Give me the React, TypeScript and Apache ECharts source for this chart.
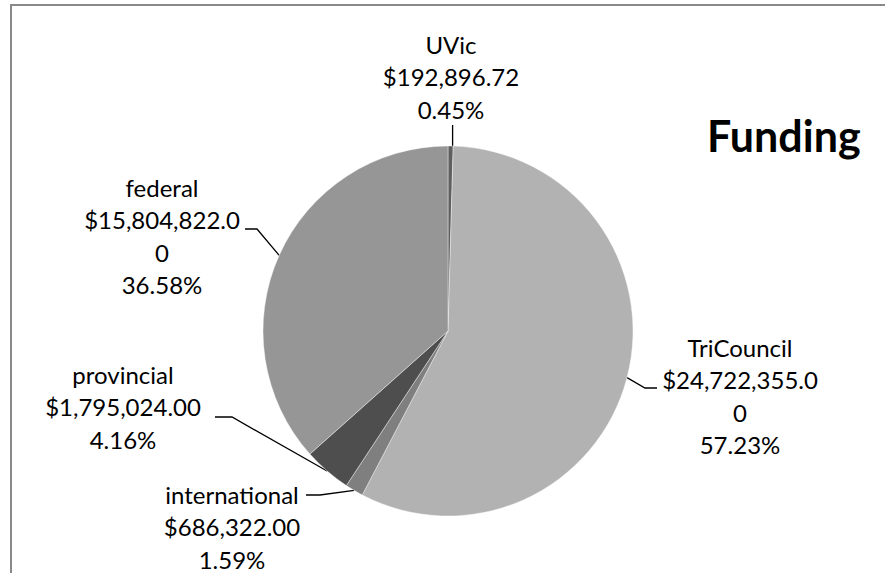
import React, { useEffect, useRef } from 'react';
import * as echarts from 'echarts';

// ---- data ----
const categories: string[] = ['UVic', 'TriCouncil', 'international', 'provincial', 'federal'];
const amounts: number[] = [192896.72, 24722355.0, 686322.0, 1795024.0, 15804822.0];
const titleText = 'Funding';

// ---- styles / layout ----
const sliceColors = ['#5f5f5f', '#b2b2b2', '#7f7f7f', '#4e4e4e', '#969696'];
const CX = 448;
const CY = 331;
const R = 185;
const FONT = 'Lato, "Open Sans", sans-serif';
const LABEL_FONT_SIZE = 24;
const LINE_H = 32.5;
// label block: center x, top y, leader bend point, leader end point
const labelLayoutCfg = [
  { x: 451, y: 28, bend: null as null | number[], end: [0, 125] },
  { x: 740, y: 331, bend: [645, 388], end: [657, 388] },
  { x: 232, y: 478, bend: [320, 495], end: [306, 495] },
  { x: 123, y: 358, bend: [232, 417], end: [215, 417] },
  { x: 162, y: 171, bend: [257, 229], end: [245, 229] },
];

const total = amounts.reduce((a, b) => a + b, 0);

function money(v: number): string {
  return '$' + v.toLocaleString('en-US', { minimumFractionDigits: 2, maximumFractionDigits: 2 });
}
function wrap(s: string, max: number): string {
  const parts: string[] = [];
  for (let i = 0; i < s.length; i += max) parts.push(s.slice(i, i + max));
  return parts.join('\n');
}

function edgePoint(i: number): number[] {
  let cum = 0;
  for (let k = 0; k < i; k++) cum += amounts[k];
  const f = (cum + amounts[i] / 2) / total;
  const th = f * Math.PI * 2;
  return [CX + R * Math.sin(th), CY - R * Math.cos(th)];
}

export default function App() {
  const ref = useRef<HTMLDivElement>(null);
  useEffect(() => {
    document.body.style.margin = '0';
    if (!ref.current) return;
    const chart = echarts.init(ref.current, undefined, { renderer: 'svg' });
    chart.setOption({
      animation: false,
      backgroundColor: '#ffffff',
      title: {
        text: titleText,
        left: 707,
        top: 114,
        padding: 0,
        textStyle: {
          fontFamily: FONT,
          fontSize: 43,
          fontWeight: 'bold',
          color: '#000000',
          lineHeight: 43,
        },
      },
      graphic: [
        {
          type: 'rect',
          shape: { x: 11, y: 5, width: 1000, height: 1000 },
          style: { fill: 'none', stroke: '#898989', lineWidth: 2 },
          silent: true,
        },
      ],
      series: [
        {
          type: 'pie',
          center: [CX, CY],
          radius: R,
          startAngle: 90,
          clockwise: true,
          avoidLabelOverlap: false,
          silent: true,
          emphasis: { disabled: true },
          itemStyle: { borderColor: '#ffffff', borderWidth: 0.4 },
          data: categories.map((name, i) => ({
            name,
            value: amounts[i],
            itemStyle: { color: sliceColors[i] },
          })),
          label: {
            show: true,
            position: 'outside',
            fontFamily: FONT,
            fontSize: LABEL_FONT_SIZE,
            lineHeight: LINE_H,
            color: '#000000',
            align: 'center',
            formatter: (p: any) => {
              const v = amounts[p.dataIndex];
              const pct = ((v / total) * 100).toFixed(2) + '%';
              return `${p.name}\n${wrap(money(v), 13)}\n${pct}`;
            },
          },
          labelLine: {
            show: true,
            lineStyle: { color: '#000000', width: 1.3 },
          },
          labelLayout: (params: any) => {
            const i = params.dataIndex;
            const c = labelLayoutCfg[i];
            const p0 = edgePoint(i);
            let pts: number[][];
            if (c.bend) {
              pts = [p0, c.bend, c.end];
            } else {
              const e = [p0[0] + 2, c.end[1]];
              pts = [[p0[0] + 2, p0[1]], e, e];
            }
            return {
              x: c.x,
              y: c.y,
              align: 'center',
              verticalAlign: 'top',
              labelLinePoints: pts,
            };
          },
        },
      ],
    });
    return () => chart.dispose();
  }, []);
  return <div ref={ref} style={{ width: 885, height: 573 }} />;
}
